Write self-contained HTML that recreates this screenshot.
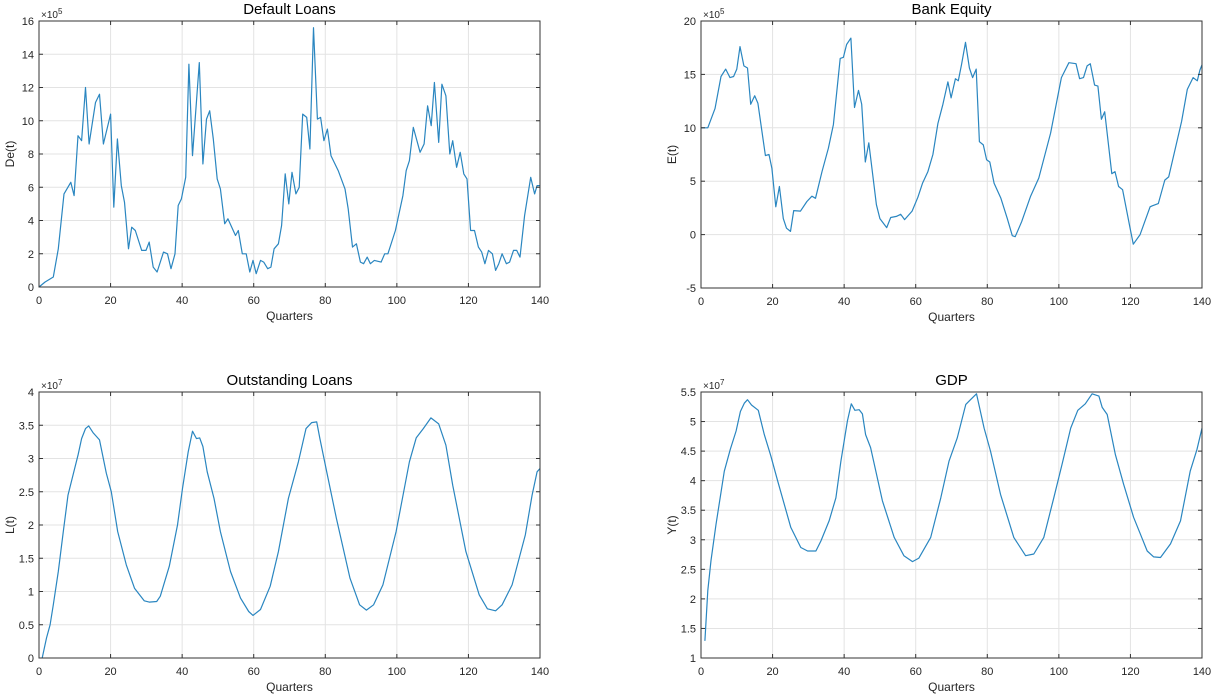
<!DOCTYPE html>
<html><head><meta charset="utf-8">
<style>
html,body{margin:0;padding:0;background:#fff;}
svg{display:block;font-family:"Liberation Sans",Arial,sans-serif;}
</style></head>
<body>
<svg id="s" width="1214" height="694" xmlns="http://www.w3.org/2000/svg"></svg>
<script>
const panels=[
{L:39,R:540,T:21,B:287,ymin:0,ymax:16,step:2,title:"Default Loans",yl:"De(t)",exp:"5",
d:[0,0,1.7,0.3,4,0.6,5.4,2.3,7,5.6,8.9,6.3,9.8,5.5,10.9,9.1,11.9,8.8,13,12,14,8.6,15.8,11.1,16.9,11.6,18,8.6,20,10.4,20.9,4.8,21.9,8.9,23,6.1,23.9,5.1,25,2.3,25.9,3.6,26.9,3.4,28.7,2.2,29.9,2.2,30.8,2.7,31.9,1.2,33,0.9,34.8,2.1,35.9,2,36.9,1.1,38,2,38.9,4.9,39.8,5.3,41,6.6,41.9,13.4,42.9,7.9,44.8,13.5,45.8,7.4,46.8,10.1,47.7,10.6,48.7,8.9,49.8,6.5,50.7,5.9,51.9,3.8,52.8,4.1,54.9,3.1,55.7,3.4,56.8,2,57.9,2,58.9,0.9,59.8,1.6,60.7,0.8,61.9,1.6,62.8,1.5,63.9,1.1,64.8,1.2,65.7,2.3,66.9,2.6,67.8,3.7,68.8,6.8,69.8,5,70.7,6.9,71.8,5.6,72.7,6,73.7,10.4,74.8,10.2,75.7,8.3,76.7,15.6,77.8,10.1,78.7,10.2,79.6,8.8,80.6,9.5,81.6,7.9,83.6,7,85.5,5.9,86.4,4.7,87.6,2.4,88.7,2.6,89.8,1.5,90.7,1.4,91.7,1.8,92.6,1.4,93.7,1.6,95.6,1.5,96.6,2,97.5,2,99.6,3.4,101.7,5.5,102.6,7,103.5,7.6,104.6,9.6,106.5,8.1,107.6,8.6,108.6,10.9,109.6,9.7,110.5,12.3,111.7,8.7,112.6,12.2,113.7,11.5,114.8,8,115.6,8.8,116.7,7.2,117.7,8.1,118.7,6.8,119.6,6.5,120.6,3.4,121.7,3.4,122.8,2.4,123.7,2.1,124.6,1.4,125.6,2.2,126.7,2,127.6,1,128.5,1.4,129.4,2,130.6,1.4,131.5,1.5,132.6,2.2,133.5,2.2,134.4,1.8,135.7,4.3,137.4,6.6,138.5,5.6,139.2,6.1,140,6.1]},
{L:701,R:1202,T:21,B:288,ymin:-5,ymax:20,step:5,title:"Bank Equity",yl:"E(t)",exp:"5",
d:[0,10,1.9,10,3.9,11.8,5.6,14.8,6.9,15.5,8.1,14.7,9.1,14.8,10,15.5,10.9,17.6,12,15.8,13,15.6,13.9,12.2,15,13,15.9,12.3,18,7.4,19,7.5,19.8,6.2,20.9,2.6,21.9,4.5,23,1.5,23.9,0.6,25,0.3,25.9,2.25,27.8,2.2,29.6,3.1,31,3.6,32,3.4,33.8,5.9,35.6,8.1,37,10.3,38.9,16.5,39.8,16.6,40.7,17.8,41.9,18.4,42.9,11.9,44,13.5,44.9,12.2,45.9,6.8,46.9,8.6,49,2.8,50,1.5,51.9,0.66,53,1.6,54.6,1.7,55.8,1.9,56.9,1.4,59,2.2,60.6,3.5,61.9,4.8,63.4,5.9,64.8,7.5,66.2,10.4,67.6,12.2,69,14.3,69.9,12.8,71.1,14.6,71.9,14.4,72.8,15.9,73.9,18,75,15.6,75.9,14.7,76.9,15.5,77.8,8.7,78.9,8.4,79.8,7,80.7,6.8,81.9,4.8,83.8,3.4,85.6,1.5,87,-0.1,87.8,-0.2,89.6,1.2,92.1,3.6,94.4,5.3,97.7,9.5,100.7,14.7,102.8,16.1,104.8,16,105.8,14.6,106.9,14.7,107.9,15.8,108.8,16,110,14,110.9,13.9,111.9,10.8,112.8,11.5,114.8,5.7,115.7,5.9,116.7,4.5,117.8,4.2,119.9,0.6,120.8,-0.9,122.7,0,125.5,2.6,126.1,2.7,127.8,2.9,129.6,5.1,130.7,5.4,134.3,10.6,135.9,13.6,137.5,14.7,138.7,14.4,139.4,15.4,140,15.9]},
{L:39,R:540,T:392,B:658,ymin:0,ymax:4,step:0.5,title:"Outstanding Loans",yl:"L(t)",exp:"7",
d:[0.9,0,2.1,0.3,3.1,0.5,4,0.8,5.4,1.3,6.8,1.9,8.1,2.45,9.5,2.75,10.9,3.05,11.9,3.3,13,3.45,13.9,3.49,15.1,3.39,16.9,3.28,18.8,2.78,20.2,2.5,22,1.9,24.4,1.4,26.7,1.05,29.4,0.86,30.8,0.84,32.9,0.85,33.9,0.93,36.4,1.38,38.7,2,40.1,2.55,41.7,3.1,42.9,3.41,44,3.3,44.9,3.31,45.8,3.18,47,2.8,48.9,2.4,50.7,1.9,53.5,1.3,56.3,0.9,58.6,0.7,59.8,0.64,61.9,0.73,64.6,1.08,66.9,1.6,69.7,2.4,72.5,2.95,74.6,3.45,76.2,3.54,77.6,3.55,78.5,3.3,80.4,2.8,83.1,2.1,86.9,1.2,89.6,0.8,91.5,0.72,93.5,0.8,96.1,1.1,99.8,1.9,103.5,2.95,105.4,3.31,107.4,3.45,109.5,3.61,111.7,3.52,113.7,3.2,115.6,2.6,119.3,1.6,123,0.95,125.3,0.74,127.6,0.71,129.4,0.8,132.2,1.1,135.9,1.85,137.8,2.45,139.2,2.8,140,2.85]},
{L:701,R:1202,T:392,B:658,ymin:1,ymax:5.5,step:0.5,title:"GDP",yl:"Y(t)",exp:"7",
d:[1.1,1.29,1.9,2.14,2.8,2.65,4.2,3.26,6.5,4.16,8.2,4.53,9.8,4.84,11,5.17,12.1,5.31,13,5.37,14.1,5.28,16,5.19,17.7,4.78,19.5,4.42,21.4,4,25.1,3.21,27.9,2.87,29.8,2.81,32.1,2.81,33.5,2.98,35.8,3.32,37.7,3.71,39.1,4.33,40.9,5.01,42,5.3,43,5.19,44.2,5.2,45.1,5.13,46,4.78,47.4,4.56,50.7,3.66,54,3.04,56.7,2.73,59.1,2.63,60.9,2.69,64.2,3.04,67,3.71,69.3,4.33,71.6,4.72,74,5.29,75.3,5.37,77,5.47,79.1,4.89,80.9,4.5,83.7,3.77,87.4,3.04,90.7,2.73,93,2.76,95.8,3.04,98.6,3.71,100.9,4.28,103.3,4.89,105.3,5.19,107.4,5.3,109.3,5.47,111.2,5.43,112.1,5.24,113.5,5.12,115.8,4.44,118.1,3.94,120.9,3.38,124.7,2.81,126.5,2.71,128.4,2.7,131.2,2.93,134,3.32,136.7,4.16,138.6,4.53,140,4.89]}
];
let h='';
for(const p of panels){
 const X=t=>p.L+(p.R-p.L)*t/140, Y=v=>p.B-(p.B-p.T)*(v-p.ymin)/(p.ymax-p.ymin);
 for(let t=20;t<140;t+=20) h+=`<line x1="${X(t)}" y1="${p.T}" x2="${X(t)}" y2="${p.B}" stroke="#e3e3e3" stroke-width="1"/>`;
 const n=Math.round((p.ymax-p.ymin)/p.step);
 for(let i=1;i<n;i++){const y=Y(p.ymin+i*p.step);h+=`<line x1="${p.L}" y1="${y}" x2="${p.R}" y2="${y}" stroke="#e3e3e3" stroke-width="1"/>`;}
 let pts='';for(let i=0;i<p.d.length;i+=2)pts+=X(p.d[i]).toFixed(1)+','+Y(p.d[i+1]).toFixed(1)+' ';
 h+=`<polyline points="${pts}" fill="none" stroke="#2a86c0" stroke-width="1.2" stroke-linejoin="round"/>`;
 h+=`<rect x="${p.L}" y="${p.T}" width="${p.R-p.L}" height="${p.B-p.T}" fill="none" stroke="#333" stroke-width="1"/>`;
 for(let t=0;t<=140;t+=20){const x=X(t);
  h+=`<line x1="${x}" y1="${p.B}" x2="${x}" y2="${p.B-4}" stroke="#333"/><line x1="${x}" y1="${p.T}" x2="${x}" y2="${p.T+4}" stroke="#333"/>`;
  h+=`<text x="${x}" y="${p.B+17}" font-size="11" text-anchor="middle" fill="#262626">${t}</text>`;}
 for(let i=0;i<=n;i++){const v=+(p.ymin+i*p.step).toFixed(2),y=Y(v);
  h+=`<line x1="${p.L}" y1="${y}" x2="${p.L+4}" y2="${y}" stroke="#333"/><line x1="${p.R}" y1="${y}" x2="${p.R-4}" y2="${y}" stroke="#333"/>`;
  h+=`<text x="${p.L-5}" y="${y+4}" font-size="11" text-anchor="end" fill="#262626">${v}</text>`;}
 const cx=(p.L+p.R)/2;
 h+=`<text x="${cx}" y="${p.T-7}" font-size="15" text-anchor="middle" fill="#000">${p.title}</text>`;
 h+=`<text x="${cx}" y="${p.B+33}" font-size="12" text-anchor="middle" fill="#262626">Quarters</text>`;
 const yc=(p.T+p.B)/2;
 h+=`<text x="${p.L-25}" y="${yc}" font-size="12" text-anchor="middle" fill="#262626" transform="rotate(-90 ${p.L-25} ${yc})">${p.yl}</text>`;
 h+=`<text x="${p.L+2}" y="${p.T-3}" font-size="10" fill="#262626">×10<tspan font-size="8" dy="-4">${p.exp}</tspan></text>`;
}
document.getElementById('s').innerHTML=h;
</script>
</body></html>
